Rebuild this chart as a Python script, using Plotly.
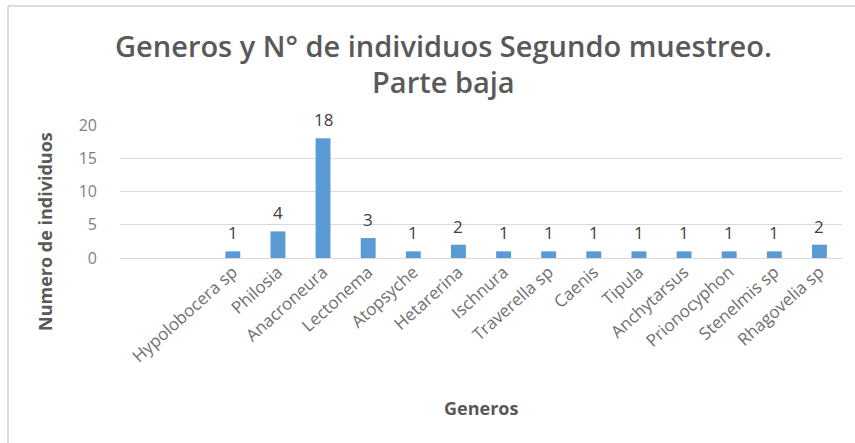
import plotly.graph_objects as go

generos = ["", " ", "Hypolobocera sp", "Philosia", "Anacroneura", "Lectonema", "Atopsyche",
           "Hetarerina", "Ischnura", "Traverella sp", "Caenis", "Tipula", "Anchytarsus",
           "Prionocyphon", "Stenelmis sp", "Rhagovelia sp"]
individuos = [None, None, 1, 4, 18, 3, 1, 2, 1, 1, 1, 1, 1, 1, 1, 2]
y_ticks = [0, 5, 10, 15, 20]

FONT = "Open Sans"
GRAY = "#595959"

fig = go.Figure()
fig.add_trace(go.Bar(
    x=generos, y=individuos,
    marker=dict(color="#5B9BD5", line=dict(width=0)),
    cliponaxis=False,
    width=0.33,
))

annotations = []
for g, v in zip(generos, individuos):
    if v is None:
        continue
    annotations.append(dict(
        x=g, y=v, xref="x", yref="y", text=str(v), showarrow=False,
        xanchor="center", yanchor="bottom", yshift=5,
        font=dict(family=FONT, size=17, color="#404040"),
    ))

annotations += [
    dict(text="Generos y N° de individuos Segundo muestreo.", xref="paper", yref="paper",
         x=0.50, y=1 + (125 - 45) / 133, xanchor="center", yanchor="middle",
         showarrow=False, font=dict(family=FONT, size=29, color=GRAY, weight=600), xshift=-38),
    dict(text="Parte baja", xref="paper", yref="paper",
         x=0.50, y=1 + (125 - 81) / 133, xanchor="center", yanchor="middle",
         showarrow=False, font=dict(family=FONT, size=29, color=GRAY, weight=600), xshift=-38),
    dict(text="<b>Numero de individuos</b>", xref="paper", yref="paper",
         x=(45 - 120) / 722, y=(258 - 232) / 133, xanchor="center", yanchor="middle",
         textangle=-90, showarrow=False, font=dict(family=FONT, size=18, color=GRAY)),
    dict(text="<b>Generos</b>", xref="paper", yref="paper",
         x=0.5, y=-(408 - 258) / 133, xanchor="center", yanchor="middle",
         showarrow=False, font=dict(family=FONT, size=18, color=GRAY)),
]

fig.update_layout(
    width=855, height=443,
    margin=dict(l=120, r=13, t=125, b=185),
    paper_bgcolor="white", plot_bgcolor="white",
    showlegend=False,
    font=dict(family=FONT, color=GRAY),
    xaxis=dict(
        type="category", tickangle=-42, showgrid=False, showline=False, ticks="",
        tickfont=dict(family=FONT, size=17, color="#707070"),
    ),
    yaxis=dict(
        range=[0, 20], tickvals=y_ticks, showgrid=True, gridcolor="#d9d9d9",
        zeroline=True, zerolinecolor="#d9d9d9", zerolinewidth=1,
        showline=False, ticks="", ticklabelstandoff=22,
        tickfont=dict(family=FONT, size=16, color="#808080"),
    ),
    annotations=annotations,
    shapes=[
        dict(type="line", xref="paper", yref="paper", x0=(8 - 120) / 722, x1=(855 - 120) / 722,
             y0=1 + (125 - 6) / 133, y1=1 + (125 - 6) / 133, line=dict(color="#d0d0d0", width=1.5)),
        dict(type="line", xref="paper", yref="paper", x0=(8 - 120) / 722, x1=(8 - 120) / 722,
             y0=1 + (125 - 6) / 133, y1=-(443 - 258) / 133, line=dict(color="#d0d0d0", width=1.5)),
    ],
)

fig.write_html("out.html")
